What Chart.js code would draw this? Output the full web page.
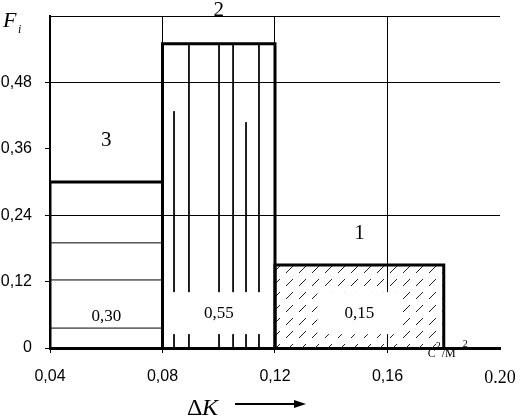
<!DOCTYPE html>
<html>
<head>
<meta charset="utf-8">
<script src="https://cdn.jsdelivr.net/npm/chart.js@4.4.0/dist/chart.umd.min.js"></script>
<style>
  html, body { margin: 0; padding: 0; background: #fff; }
  #wrap { width: 522px; height: 417px; }
</style>
</head>
<body>
<div id="wrap"><canvas id="histChart"></canvas></div>
<script>
// === Data ===
const binEdges = [0.04, 0.08, 0.12, 0.18];
const frequencies = [0.30, 0.55, 0.15];
const regionNames = ["3", "2", "1"];
const valueLabels = ["0,30", "0,55", "0,15"];
const regionNameY = [0.375, 0.61, 0.207];
const valueLabelY = [0.057, 0.063, 0.063];
const xTicks = [0.04, 0.08, 0.12, 0.16, 0.20];
const yTicks = [0, 0.12, 0.24, 0.36, 0.48, 0.60];

// hatching of bar 3 (horizontal lines)
const bar3HatchY = [0.19, 0.123, 0.036];
// hatching of bar 2 (vertical lines, broken around the value label)
const bar2HatchX = [0.0841, 0.0894, 0.1001, 0.1051, 0.1097, 0.1143];
const bar2HatchTop = [0.428, 0.55, 0.55, 0.55, 0.408, 0.55];
const bar2Gap = [0.025, 0.101];

const SANS = '"Liberation Sans", Arial, sans-serif';
const SERIF = '"Liberation Serif", "Times New Roman", serif';

// === Diagonal dashed hatch for bar 1 ===
function makeHatch() {
  const c = document.createElement("canvas");
  c.width = 13;
  c.height = 13;
  const g = c.getContext("2d");
  g.strokeStyle = "#222";
  g.lineWidth = 1;
  g.beginPath();
  g.moveTo(0, 13);
  g.lineTo(7, 6);
  g.stroke();
  return g.createPattern(c, "repeat");
}

// === Datasets ===
function barOutline(i) {
  const x0 = binEdges[i], x1 = binEdges[i + 1], h = frequencies[i];
  return {
    data: [{ x: x0, y: 0 }, { x: x0, y: h }, { x: x1, y: h }, { x: x1, y: 0 }],
    borderColor: "#000",
    borderWidth: 3,
    pointRadius: 0,
    tension: 0,
    fill: i === 2 ? "origin" : false,
    backgroundColor: i === 2 ? makeHatch() : "transparent",
  };
}

const thin = { borderColor: "#000", borderWidth: 1, pointRadius: 0, fill: false, tension: 0 };

const datasets = [
  ...frequencies.map((_, i) => barOutline(i)),
  ...bar3HatchY.map((y) => ({
    ...thin,
    data: [{ x: binEdges[0], y }, { x: binEdges[1], y }],
  })),
  ...bar2HatchX.map((x, i) => ({
    ...thin,
    data: [
      { x, y: bar2HatchTop[i] },
      { x, y: bar2Gap[1] },
      { x, y: null },
      { x, y: bar2Gap[0] },
      { x, y: 0 },
    ],
  })),
];

// === Annotations: labels, axis titles ===
const annotations = {
  id: "annotations",
  afterDatasetsDraw(chart) {
    const { ctx, chartArea } = chart;
    const xs = chart.scales.x, ys = chart.scales.y;
    ctx.save();
    ctx.fillStyle = "#000";
    ctx.textAlign = "center";
    ctx.textBaseline = "middle";

    frequencies.forEach((_, i) => {
      const cx = xs.getPixelForValue((binEdges[i] + binEdges[i + 1]) / 2);
      const vy = ys.getPixelForValue(valueLabelY[i]);
      if (i === 2) {
        ctx.fillStyle = "#fff";
        ctx.fillRect(cx - 42, vy - 21, 84, 42);
        ctx.fillStyle = "#000";
      }
      ctx.font = "17px " + SERIF;
      ctx.fillText(valueLabels[i], cx, vy);
      ctx.font = "21px " + SERIF;
      ctx.fillText(regionNames[i], cx, ys.getPixelForValue(regionNameY[i]));
    });

    // F_i
    ctx.textAlign = "left";
    ctx.textBaseline = "alphabetic";
    ctx.font = "italic 22px " + SERIF;
    ctx.fillText("F", chartArea.left - 47, 27);
    ctx.font = "italic 12px " + SERIF;
    ctx.fillText("i", chartArea.left - 32, 33);

    // ΔK with arrow
    const by = chart.height - 2;
    ctx.font = "24px " + SERIF;
    ctx.fillText("\u0394", chartArea.left + 137, by);
    ctx.font = "italic 24px " + SERIF;
    ctx.fillText("K", chartArea.left + 152, by);
    ctx.strokeStyle = "#000";
    ctx.lineWidth = 2;
    ctx.beginPath();
    ctx.moveTo(chartArea.left + 185, by - 11);
    ctx.lineTo(chartArea.left + 247, by - 11);
    ctx.stroke();
    ctx.beginPath();
    ctx.moveTo(chartArea.left + 256, by - 11);
    ctx.lineTo(chartArea.left + 244, by - 15);
    ctx.lineTo(chartArea.left + 244, by - 7);
    ctx.closePath();
    ctx.fill();

    // units
    const ux = xs.getPixelForValue(binEdges[3]) - 16;
    const uy = chartArea.bottom + 9;
    ctx.font = "12px " + SERIF;
    ctx.fillText("\u0421", ux, uy);
    ctx.fillText("/\u041C", ux + 14, uy);
    ctx.font = "10px " + SERIF;
    ctx.fillText("2", ux + 8, uy - 8);
    ctx.fillText("2", ux + 35, uy - 10);
    ctx.restore();
  },
};

// === Chart ===
const chart = new Chart(document.getElementById("histChart"), {
  type: "line",
  data: { datasets },
  options: {
    responsive: true,
    maintainAspectRatio: false,
    animation: false,
    layout: { padding: { top: 16, right: 22, left: 0, bottom: 0 } },
    plugins: { legend: { display: false }, tooltip: { enabled: false } },
    scales: {
      x: {
        type: "linear",
        min: xTicks[0],
        max: xTicks[xTicks.length - 1],
        afterBuildTicks: (s) => { s.ticks = xTicks.map((v) => ({ value: v })); },
        afterFit: (s) => {
          s.height = 69;
          s.paddingLeft = 0;
          s.paddingRight = 0;
        },
        border: { display: true, color: "#000", width: 3 },
        grid: {
          color: (c) => (c.index >= 1 && c.index <= 3 ? "#000" : "transparent"),
          tickColor: (c) => (c.index <= 3 ? "#000" : "transparent"),
          tickLength: 5,
          lineWidth: 1,
        },
        ticks: {
          color: "#000",
          padding: 14,
          maxRotation: 0,
          autoSkip: false,
          font: (c) =>
            c.index === xTicks.length - 1
              ? { family: SERIF, size: 18 }
              : { family: SANS, size: 16 },
          callback: (v, i) =>
            i === xTicks.length - 1 ? "0.20" : v.toFixed(2).replace(".", ","),
        },
      },
      y: {
        min: yTicks[0],
        max: yTicks[yTicks.length - 1],
        afterBuildTicks: (s) => { s.ticks = yTicks.map((v) => ({ value: v })); },
        afterFit: (s) => {
          s.width = 50;
          s.paddingTop = 0;
          s.paddingBottom = 0;
        },
        border: { display: true, color: "#000", width: 2 },
        grid: {
          color: (c) => ([2, 4, 5].includes(c.index) ? "#000" : "transparent"),
          tickColor: (c) => (c.index <= 4 ? "#000" : "transparent"),
          tickLength: 5,
          lineWidth: 1,
        },
        ticks: {
          color: "#000",
          padding: 13,
          autoSkip: false,
          font: { family: SANS, size: 16 },
          callback: (v, i) =>
            i === yTicks.length - 1 ? "" : v === 0 ? "0" : v.toFixed(2).replace(".", ","),
        },
      },
    },
  },
  plugins: [annotations],
});
</script>
</body>
</html>
